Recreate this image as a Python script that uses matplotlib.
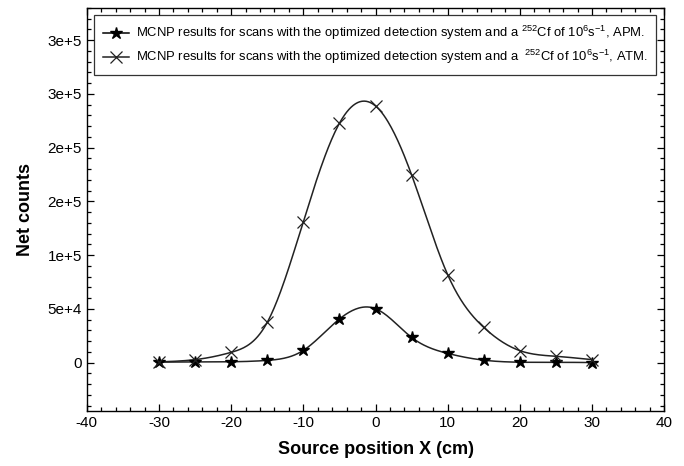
import numpy as np
import matplotlib
matplotlib.use('Agg')
import matplotlib.pyplot as plt
from matplotlib.ticker import MultipleLocator

plt.rcParams['font.family'] = ['Liberation Sans', 'DejaVu Sans']
plt.rcParams['axes.unicode_minus'] = False
plt.rcParams['mathtext.fontset'] = 'custom'
plt.rcParams['mathtext.rm'] = 'Liberation Sans'
plt.rcParams['mathtext.default'] = 'regular'

# source positions (cm)
pos = [-30, -25, -20, -15, -10, -5, 0, 5, 10, 15, 20, 25, 30]
# net counts
apm = [500, 600, 800, 2100, 11400, 40600, 50200, 23500, 8600, 2300, 400, 300, 100]
atm = [700, 2800, 9600, 37500, 131300, 222700, 238800, 174700, 81800, 32800, 11150, 5900, 2800]

yticks = [0, 50000, 100000, 150000, 200000, 250000, 300000]
ylabels = ['0', '5e+4', '1e+5', '2e+5', '2e+5', '3e+5', '3e+5']

lab_apm = r'MCNP results for scans with the optimized detection system and a $^{252}$Cf of 10$^{6}$s$^{-1}$, APM.'
lab_atm = r'MCNP results for scans with the optimized detection system and a  $^{252}$Cf of 10$^{6}$s$^{-1}$, ATM.'


def spline(x, y, n=400):
    # natural cubic spline, just for drawing the smooth connecting line
    x = np.asarray(x, float)
    y = np.asarray(y, float)
    k = len(x)
    h = np.diff(x)
    A = np.zeros((k, k))
    b = np.zeros(k)
    A[0, 0] = A[-1, -1] = 1
    for i in range(1, k - 1):
        A[i, i - 1] = h[i - 1]
        A[i, i] = 2 * (h[i - 1] + h[i])
        A[i, i + 1] = h[i]
        b[i] = 6 * ((y[i + 1] - y[i]) / h[i] - (y[i] - y[i - 1]) / h[i - 1])
    m = np.linalg.solve(A, b)
    xs = np.linspace(x[0], x[-1], n)
    j = np.clip(np.searchsorted(x, xs) - 1, 0, k - 2)
    t = xs - x[j]
    hj = h[j]
    a = (m[j + 1] - m[j]) / (6 * hj)
    c = (y[j + 1] - y[j]) / hj - hj * (2 * m[j] + m[j + 1]) / 6
    ys = y[j] + c * t + m[j] / 2 * t ** 2 + a * t ** 3
    return xs, ys


fig = plt.figure(figsize=(6.84, 4.66), dpi=100)
ax = fig.add_axes([0.127, 0.118, 0.844, 0.865])

col = '#222222'
xs, ys = spline(pos, apm)
ax.plot(xs, ys, color=col, lw=1.1)
xs, ys = spline(pos, atm)
ax.plot(xs, ys, color=col, lw=1.1)
ax.plot(pos, apm, ls='none', marker='*', ms=9, color='black')
ax.plot(pos, atm, ls='none', marker='x', ms=8, mew=0.9, color=col)

# legend proxies: line with marker
h1, = ax.plot([], [], color='black', lw=1.1, marker='*', ms=9)
h2, = ax.plot([], [], color=col, lw=1.1, marker='x', ms=8, mew=0.9)
leg = ax.legend([h1, h2], [lab_apm, lab_atm], loc='upper left',
                bbox_to_anchor=(0.012, 0.983), fontsize=9.4, frameon=True,
                fancybox=False, borderpad=0.7, handlelength=2.0,
                handletextpad=0.5, labelspacing=0.45, borderaxespad=0)
leg.get_frame().set_edgecolor('black')
leg.get_frame().set_linewidth(0.9)

ax.set_xlim(-40, 40)
ax.set_ylim(-45000, 330000)
ax.xaxis.set_major_locator(MultipleLocator(10))
ax.xaxis.set_minor_locator(MultipleLocator(2))
ax.set_yticks(yticks)
ax.set_yticklabels(ylabels)
ax.yaxis.set_minor_locator(MultipleLocator(10000))
ax.tick_params(which='both', direction='in', top=True, right=True, labelsize=11)
ax.tick_params(which='major', length=5, width=0.9)
ax.tick_params(which='minor', length=3, width=0.9)
for s in ax.spines.values():
    s.set_linewidth(1.0)

ax.set_xlabel('Source position X (cm)', fontsize=13, fontweight='bold', labelpad=8)
ax.set_ylabel('Net counts', fontsize=13, fontweight='bold', labelpad=10)

fig.savefig('out.png', dpi=100)
